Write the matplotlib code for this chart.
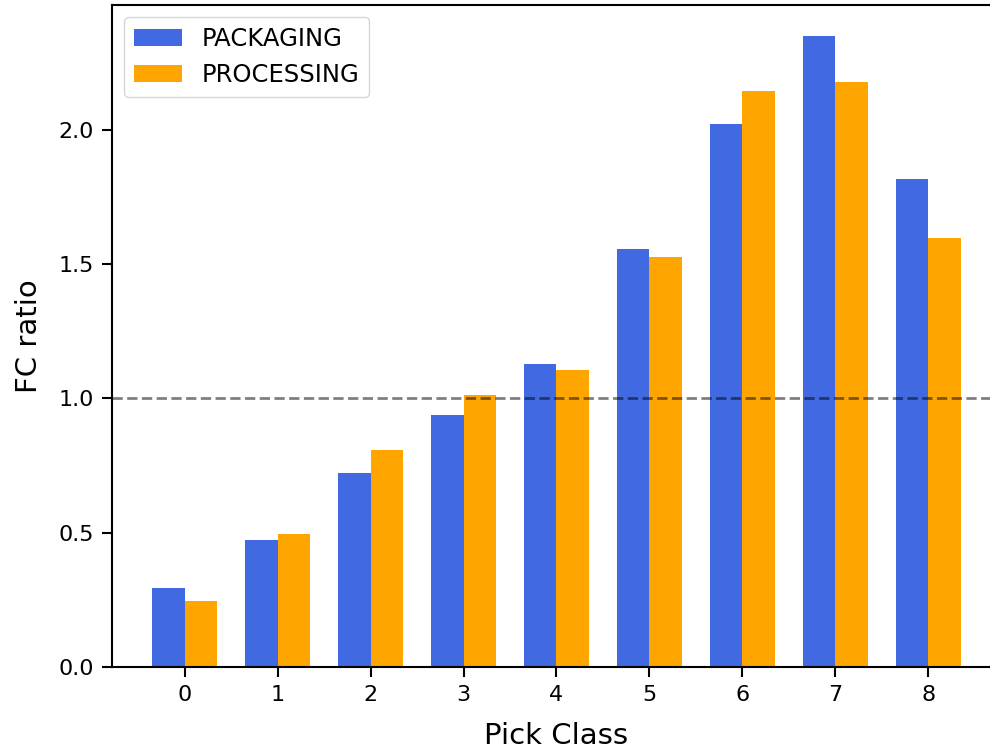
import numpy as np
import matplotlib.pyplot as plt

pick_classes = [0, 1, 2, 3, 4, 5, 6, 7, 8]
packaging = [0.293, 0.473, 0.721, 0.940, 1.128, 1.556, 2.023, 2.348, 1.816]
processing = [0.247, 0.494, 0.807, 1.014, 1.106, 1.528, 2.143, 2.177, 1.596]

x = np.arange(len(pick_classes))
width = 0.35

fig = plt.figure(figsize=(9.9, 7.54), dpi=100)
# axes run slightly past the right edge of the canvas
ax = fig.add_axes([0.1131, 0.1155, 0.898, 0.878])

ax.bar(x, packaging, width, color='royalblue', label='PACKAGING')
ax.bar(x + width, processing, width, color='orange', label='PROCESSING')
ax.axhline(1.0, color='black', linestyle='--', alpha=0.5, linewidth=2)

ax.set_xticks(x + width / 2)
ax.set_xticklabels([str(c) for c in pick_classes])
ax.tick_params(labelsize=16, width=1.5, length=7, pad=6)
for s in ax.spines.values():
    s.set_linewidth(1.5)

ax.set_xlabel('Pick Class', fontsize=21, labelpad=12)
ax.set_ylabel('FC ratio', fontsize=21, labelpad=11)
ax.legend(loc='upper left', fontsize=17.5)

fig.savefig('out.png', dpi=100)
